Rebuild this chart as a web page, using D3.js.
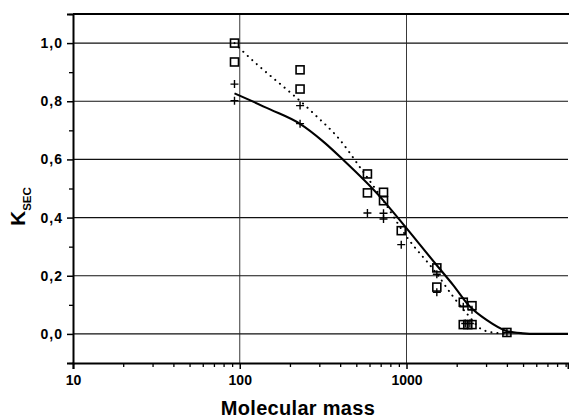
<!DOCTYPE html>
<html>
<head>
<meta charset="utf-8">
<script src="https://cdn.jsdelivr.net/npm/d3@7"></script>
<style>
  html, body { margin: 0; padding: 0; background: #fff; }
  svg { display: block; }
  text { font-family: Arial, "Liberation Sans", Helvetica, sans-serif; font-weight: bold; fill: #000; }
</style>
</head>
<body>
<svg id="chart" width="569" height="419"></svg>
<script>
// Measured K_SEC values: open squares and plus markers
const squareMass = [93, 93, 230, 230, 583, 583, 728, 728, 930, 1520, 1520, 2190, 2470, 2190, 2330, 2470, 4000];
const squareK    = [1.0, 0.935, 0.908, 0.842, 0.55, 0.485, 0.487, 0.458, 0.355, 0.227, 0.161, 0.109, 0.097, 0.032, 0.032, 0.032, 0.005];

const plusMass = [93, 93, 230, 230, 583, 728, 728, 930, 1520, 1520, 2190, 2470, 2250, 2400, 4000];
const plusK    = [0.859, 0.802, 0.785, 0.723, 0.416, 0.415, 0.395, 0.307, 0.205, 0.143, 0.093, 0.083, 0.036, 0.036, 0.005];

// Fitted curve (solid)
const solidMass = [93, 152, 230, 317, 418, 693, 891, 1514, 1905, 2398, 3019, 3980, 4990, 6000, 9300];
const solidK    = [0.827, 0.772, 0.722, 0.661, 0.598, 0.472, 0.398, 0.237, 0.168, 0.094, 0.048, 0.010, 0.002, 0.0, 0.0];

// Guide curve through the squares (dotted)
const dottedMass = [93, 100, 276, 399, 526, 703, 1002, 1514, 1905, 2291, 2884, 3631, 4000];
const dottedK    = [1.0, 0.982, 0.759, 0.667, 0.573, 0.471, 0.334, 0.208, 0.128, 0.071, 0.013, 0.002, 0.0];

const yMajor = [0.0, 0.2, 0.4, 0.6, 0.8, 1.0];
const yMinor = [-0.1, 0.1, 0.3, 0.5, 0.7, 0.9, 1.1];
const xMajor = [10, 100, 1000];
const xMinor = [20, 30, 40, 50, 60, 70, 80, 90, 200, 300, 400, 500, 600, 700, 800, 900,
                2000, 3000, 4000, 5000, 6000, 7000, 8000, 9000];
const xGrid = [100, 1000];

const fmtY = d => d3.format(".1f")(d).replace(".", ",");

const svg = d3.select("#chart");
const plotLeft = 73, plotRight = 568, plotTop = 14, plotBottom = 363;

const x = d3.scaleLog().domain([10, 9300]).range([plotLeft, plotRight]);
const y = d3.scaleLinear().domain([-0.1, 1.1]).range([plotBottom, plotTop]);

// Grid lines
svg.append("g").selectAll("line").data(yMajor).join("line")
  .attr("x1", plotLeft).attr("x2", plotRight)
  .attr("y1", d => y(d)).attr("y2", d => y(d))
  .attr("stroke", "#111").attr("stroke-width", 1.1);
svg.append("g").selectAll("line").data(xGrid).join("line")
  .attr("x1", d => x(d)).attr("x2", d => x(d))
  .attr("y1", plotTop).attr("y2", plotBottom)
  .attr("stroke", "#222").attr("stroke-width", 0.9);

// Top frame line
svg.append("line").attr("x1", plotLeft).attr("x2", plotRight + 1).attr("y1", plotTop).attr("y2", plotTop)
  .attr("stroke", "#000").attr("stroke-width", 2.2);

// Y axis
const yAxis = svg.append("g").attr("transform", `translate(${plotLeft},0)`)
  .call(d3.axisLeft(y).tickValues(yMajor).tickSize(6).tickPadding(4).tickFormat(fmtY));
yAxis.select(".domain").attr("stroke-width", 2);
yAxis.selectAll(".tick line").attr("stroke-width", 1.5);
yAxis.selectAll("text").attr("font-size", 14).attr("font-family", null).attr("letter-spacing", 1);
svg.append("g").attr("transform", `translate(${plotLeft},0)`)
  .call(d3.axisLeft(y).tickValues(yMinor).tickSize(4).tickFormat(""))
  .call(g => g.select(".domain").remove())
  .selectAll(".tick line").attr("stroke-width", 1.3);

// X axis
const xAxis = svg.append("g").attr("transform", `translate(0,${plotBottom})`)
  .call(d3.axisBottom(x).tickValues(xMajor).tickSize(6).tickPadding(6).tickFormat(d3.format("d")));
xAxis.select(".domain").attr("stroke-width", 2);
xAxis.selectAll(".tick line").attr("stroke-width", 1.5);
xAxis.selectAll("text").attr("font-size", 14).attr("font-family", null);
svg.append("g").attr("transform", `translate(0,${plotBottom})`)
  .call(d3.axisBottom(x).tickValues(xMinor).tickSize(4).tickFormat(""))
  .call(g => g.select(".domain").remove())
  .selectAll(".tick line").attr("stroke-width", 1.3);

// Curves
const line = d3.line().x(d => x(d[0])).y(d => y(d[1])).curve(d3.curveMonotoneX);
svg.append("path")
  .datum(dottedMass.map((m, i) => [m, dottedK[i]]))
  .attr("d", line).attr("fill", "none").attr("stroke", "#000")
  .attr("stroke-width", 2).attr("stroke-linecap", "round").attr("stroke-dasharray", "0.1 6");
svg.append("path")
  .datum(solidMass.map((m, i) => [m, solidK[i]]))
  .attr("d", line).attr("fill", "none").attr("stroke", "#000").attr("stroke-width", 2.1);

// Plus markers
const ps = 4;
svg.append("g").selectAll("path").data(plusMass.map((m, i) => [m, plusK[i]])).join("path")
  .attr("d", d => {
    const cx = x(d[0]), cy = y(d[1]);
    return `M${cx - ps},${cy}H${cx + ps}M${cx},${cy - ps}V${cy + ps}`;
  })
  .attr("stroke", "#000").attr("stroke-width", 1.4).attr("fill", "none");

// Square markers (open)
const ss = 8;
svg.append("g").selectAll("rect").data(squareMass.map((m, i) => [m, squareK[i]])).join("rect")
  .attr("x", d => x(d[0]) - ss / 2).attr("y", d => y(d[1]) - ss / 2)
  .attr("width", ss).attr("height", ss)
  .attr("fill", "none").attr("stroke", "#000").attr("stroke-width", 1.6);

// Axis titles
svg.append("text").attr("x", 298).attr("y", 415)
  .attr("text-anchor", "middle").attr("font-size", 20).attr("letter-spacing", 0.3).text("Molecular mass");

const yt = svg.append("text").attr("transform", "translate(25,226) rotate(-90)").attr("font-size", 21);
yt.append("tspan").text("K");
yt.append("tspan").attr("font-size", 11.5).attr("dy", 6).text("SEC");
</script>
</body>
</html>
